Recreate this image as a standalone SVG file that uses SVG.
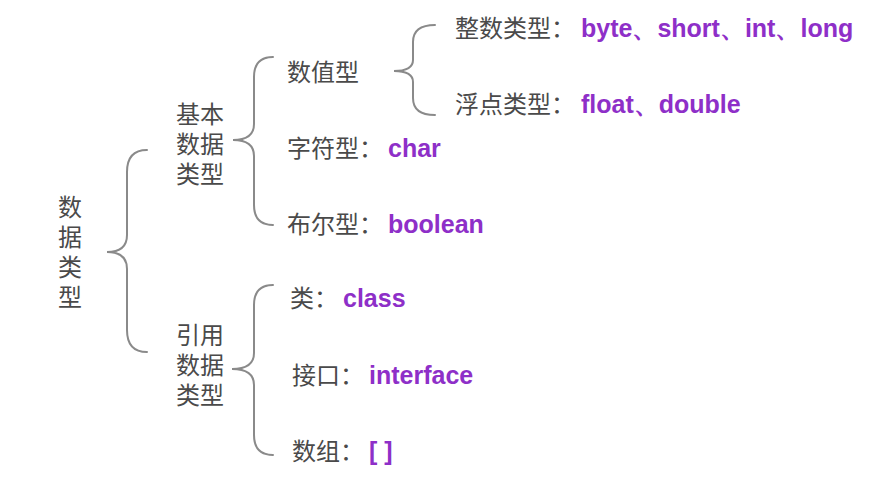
<svg xmlns="http://www.w3.org/2000/svg" width="881" height="481" viewBox="0 0 881 481">
<style>
.cn{font-family:"Noto Sans CJK SC","Noto Sans",sans-serif;font-size:24px;fill:#4a4a4a}
.en{font-family:"Liberation Sans",Arial,sans-serif;font-weight:bold;font-size:25px;fill:#8e2fc8}
.br{fill:none;stroke:#8a8a8a;stroke-width:2;stroke-linecap:round}
</style>
<rect width="881" height="481" fill="#ffffff"/>
<g id="connectors">
<path class="br" d="M147,150 Q127,150 127,172 L127,235 Q127,252 107,252 Q127,252 127,269 L127,330 Q127,352 147,352"/>
<path class="br" d="M273,57 Q254,57 254,77 L254,124 Q254,140 233,140 Q254,140 254,156 L254,205 Q254,225 273,225"/>
<path class="br" d="M273,285 Q254,285 254,305 L254,353 Q254,369 232,369 Q254,369 254,385 L254,435 Q254,455 273,455"/>
<path class="br" d="M435,25 Q413,25 413,42 L413,60 Q413,71 394,71 Q413,71 413,82 L413,98 Q413,115 435,115"/>
</g>
<g id="root">
<text class="cn" x="70" y="195" style="writing-mode:vertical-rl;letter-spacing:6px">数据类型</text>
</g>
<g id="basic">
<text class="cn" text-anchor="middle"><tspan x="200" y="123">基本</tspan><tspan x="200" y="153">数据</tspan><tspan x="200" y="183">类型</tspan></text>
</g>
<g id="reference">
<text class="cn" text-anchor="middle"><tspan x="200" y="344">引用</tspan><tspan x="200" y="374">数据</tspan><tspan x="200" y="404">类型</tspan></text>
</g>
<g id="numeric"><text class="cn" x="287" y="81">数值型</text></g>
<g id="integer"><text class="cn" x="455" y="37">整数类型：<tspan class="en" dx="6">byte、short、int、long</tspan></text></g>
<g id="float"><text class="cn" x="455" y="113">浮点类型：<tspan class="en" dx="6">float、double</tspan></text></g>
<g id="char"><text class="cn" x="287" y="157">字符型：<tspan class="en" dx="5">char</tspan></text></g>
<g id="boolean"><text class="cn" x="287" y="233">布尔型：<tspan class="en" dx="5">boolean</tspan></text></g>
<g id="class"><text class="cn" x="290" y="307">类：<tspan class="en" dx="5">class</tspan></text></g>
<g id="interface"><text class="cn" x="292" y="384">接口：<tspan class="en" dx="5">interface</tspan></text></g>
<g id="array"><text class="cn" x="292" y="460">数组：<tspan class="en" dx="5">[ ]</tspan></text></g>
</svg>
